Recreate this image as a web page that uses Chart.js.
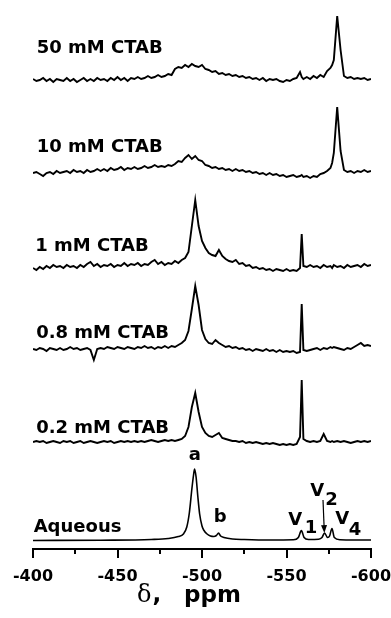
<!DOCTYPE html>
<html>
<head>
<meta charset="utf-8">
<script src="https://cdn.jsdelivr.net/npm/chart.js@4.4.1/dist/chart.umd.min.js"></script>
<style>
  html, body { margin: 0; padding: 0; background: #fff; }
  #wrap { width: 391px; height: 618px; }
</style>
</head>
<body>
<div id="wrap"><canvas id="nmr" width="391" height="618"></canvas></div>
<script>
// chemical shift grid (ppm) shared by the five noisy spectra
const ppmGrid = [
  -400, -402, -404, -406, -408, -410, -412, -414, -416, -418,
  -420, -422, -424, -426, -428, -430, -432, -434, -436, -438,
  -440, -442, -444, -446, -448, -450, -452, -454, -456, -458,
  -460, -462, -464, -466, -468, -470, -472, -474, -476, -478,
  -480, -482, -484, -486, -488, -490, -492, -494, -496, -498,
  -500, -502, -504, -506, -508, -510, -512, -514, -516, -518,
  -520, -522, -524, -526, -528, -530, -532, -534, -536, -538,
  -540, -542, -544, -546, -548, -550, -552, -554, -556, -558,
  -559, -560, -562, -564, -566, -568, -570, -572, -574, -576,
  -577, -578, -580, -582, -584, -586, -588, -590, -592, -594, -596, -598, -600
];

// intensities (arbitrary units, relative to each baseline)
const ctab50 = [
  1, -1, 0, 2, -1, 1, -2, 1, 0, -1,
  2, -1, 1, -2, 0, 2, -1, 1, -1, 2,
  0, 1, -1, 2, 0, 3, 0, 2, -1, 2,
  1, 3, 1, 2, 4, 2, 3, 5, 3, 4,
  6, 5, 11, 13, 12, 15, 13, 16, 14, 13,
  15, 11, 10, 8, 9, 6, 7, 5, 6, 4,
  5, 3, 4, 2, 3, 1, 2, 0, 2, -1,
  1, 0, 1, -1, -2, 0, -1, 1, 2, 8,
  3, 1, 3, 1, 4, 2, 5, 3, 9, 12,
  15, 20, 64, 30, 4, 2, 3, 1, 2, 1, 2, 0, 1
];
const ctab10 = [
  0, 1, -1, -3, 0, 1, -1, 2, 0, 1,
  2, 0, 3, 1, 2, 0, 3, 1, 2, 4,
  2, 4, 2, 5, 3, 4, 6, 3, 5, 4,
  6, 4, 5, 7, 5, 6, 8, 6, 7, 6,
  8, 7, 9, 12, 11, 15, 18, 14, 17, 13,
  12, 8, 7, 5, 6, 4, 5, 3, 4, 2,
  4, 2, 3, 1, 2, 0, 1, -1, 0, -2,
  0, -2, -1, -3, -2, -4, -3, -2, -4, -3,
  -2, -4, -3, -5, -3, -4, -1, 0, 2, 5,
  10, 20, 66, 22, 3, 1, 2, 0, 2, 1, 3, 1, 2
];
const ctab1 = [
  0, -2, 1, -1, 2, 0, 3, 1, 2, 0,
  3, 1, 2, 0, 3, 1, 4, 6, 2, 4,
  1, 3, 2, 4, 1, 3, 2, 5, 2, 4,
  3, 5, 2, 4, 3, 6, 8, 4, 6, 3,
  5, 4, 7, 5, 8, 10, 16, 42, 68, 42,
  27, 20, 15, 13, 12, 18, 12, 9, 7, 6,
  8, 4, 5, 2, 3, 0, 1, -1, 0, -2,
  -1, -3, -1, -2, -3, -1, -3, -2, -3, 0,
  34, 2, 1, 3, 1, 2, 0, 3, 1, 2,
  0, 3, 1, 2, 0, 3, 1, 2, 3, 1, 4, 2, 3
];
const ctab08 = [
  0, -1, 1, 0, -2, 1, 0, -1, 1, -1,
  0, 2, 0, 1, -1, 0, 1, -1, -11, 0,
  1, 0, 2, 1, 0, 2, 1, 0, 2, 1,
  0, 2, 1, 3, 1, 2, 0, 2, 1, 3,
  1, 3, 2, 4, 6, 9, 18, 40, 63, 44,
  19, 10, 6, 5, 9, 6, 4, 2, 3, 1,
  2, 0, 1, -1, 0, -2, 0, -1, -2, 0,
  -2, -1, -3, -1, -3, -2, -3, -2, -4, -3,
  45, -1, -2, -1, 0, 1, -1, 1, 0, 2,
  1, 2, 1, 0, -1, 1, 0, 2, 4, 6, 3, 4, 3
];
const ctab02 = [
  0, 1, 0, 1, -1, 0, 1, 0, -1, 1,
  0, 1, -1, 0, 1, -1, 0, 1, 0, -1,
  0, 1, 0, 1, -1, 0, 1, 0, 1, 0,
  1, 0, 1, 0, 1, 2, 1, 0, 1, 2,
  1, 2, 1, 2, 3, 6, 15, 35, 49, 30,
  15, 9, 6, 5, 7, 9, 4, 3, 2, 1,
  1, 0, 1, -1, 0, -1, 0, -1, -2, -1,
  -2, -1, -2, -3, -2, -3, -2, -3, -2, 5,
  62, 3, 1, 0, 1, 0, 1, 8, 1, 0,
  1, 0, 1, 0, 1, 0, -1, 0, 1, 0, 1, 0, 1
];

// aqueous spectrum is smooth, so it has its own sparser sampling
const aqPpm = [-400, -440, -470, -480, -486, -489, -491, -492.5, -494, -495, -495.6, -496.5, -497.5, -498.6,
  -500, -501, -503, -505, -507, -508.5, -509.8, -511, -513, -518, -525, -540, -554, -557, -558.8, -560.4,
  -563, -569, -571, -572.5, -574.3, -575.5, -576.9, -578.3, -581.8, -590, -600];
const aqVal = [0.5, 0.8, 1.5, 2.5, 4.5, 7, 14, 28, 52, 66, 72, 64, 45, 27,
  15, 11, 7, 5, 4.5, 5.5, 8, 5, 3.5, 2, 1.5, 1, 1.2, 3.5, 10.5, 3.5,
  1.5, 1.8, 3.5, 8, 3.5, 5, 12.5, 3.5, 1.2, 1, 1];

const sampleNames = ['50 mM CTAB', '10 mM CTAB', '1 mM CTAB', '0.8 mM CTAB', '0.2 mM CTAB', 'Aqueous'];
const tickLabelsPpm = [-400, -450, -500, -550, -600];

// vertical stacking of the traces (height of each baseline above the axis)
const stackOffsets = [469, 376, 281, 200, 107, 8];

const noisy = [ctab50, ctab10, ctab1, ctab08, ctab02];
const datasets = noisy.map((vals, i) => ({
  label: sampleNames[i],
  data: ppmGrid.map((p, j) => ({ x: p, y: stackOffsets[i] + vals[j] })),
  borderColor: '#000',
  borderWidth: 1.9,
  pointRadius: 0,
  tension: 0
}));
datasets.push({
  label: sampleNames[5],
  data: aqPpm.map((p, j) => ({ x: p, y: stackOffsets[5] + aqVal[j] })),
  borderColor: '#000',
  borderWidth: 1.6,
  pointRadius: 0,
  cubicInterpolationMode: 'monotone'
});

const FONT = '"DejaVu Sans", sans-serif';

const annotate = {
  id: 'annotate',
  afterDraw(chart, args, opts) {
    const { ctx, chartArea, scales: { x, y } } = chart;
    ctx.save();
    ctx.fillStyle = '#000';
    ctx.strokeStyle = '#000';

    // tick marks, long for labelled ticks
    ctx.lineWidth = 2;
    x.ticks.forEach(t => {
      const px = Math.round(x.getPixelForValue(t.value));
      const len = tickLabelsPpm.includes(t.value) ? 9 : 5;
      ctx.beginPath();
      ctx.moveTo(px, chartArea.bottom - 1);
      ctx.lineTo(px, chartArea.bottom + len);
      ctx.stroke();
    });

    ctx.font = 'bold 18px ' + FONT;
    ctx.textBaseline = 'alphabetic';
    opts.texts.forEach(t => {
      ctx.textAlign = t.align || 'left';
      ctx.fillText(t.text, x.getPixelForValue(t.ppm), y.getPixelForValue(t.y));
    });

    // arrow pointing at V2
    const a = opts.arrow;
    const x0 = x.getPixelForValue(a.from[0]), y0 = y.getPixelForValue(a.from[1]);
    const x1 = x.getPixelForValue(a.to[0]), y1 = y.getPixelForValue(a.to[1]);
    const ang = Math.atan2(y1 - y0, x1 - x0);
    ctx.lineWidth = 1.2;
    ctx.beginPath();
    ctx.moveTo(x0, y0);
    ctx.lineTo(x1 - 6 * Math.cos(ang), y1 - 6 * Math.sin(ang));
    ctx.stroke();
    ctx.beginPath();
    ctx.moveTo(x1, y1);
    ctx.lineTo(x1 - 8 * Math.cos(ang) + 3 * Math.sin(ang), y1 - 8 * Math.sin(ang) - 3 * Math.cos(ang));
    ctx.lineTo(x1 - 8 * Math.cos(ang) - 3 * Math.sin(ang), y1 - 8 * Math.sin(ang) + 3 * Math.cos(ang));
    ctx.closePath();
    ctx.fill();

    // axis title: serif delta, bold ppm
    const base = 602;
    ctx.textAlign = 'left';
    ctx.font = '24px "DejaVu Serif", serif';
    ctx.fillText('δ', 137, base);
    const dw = ctx.measureText('δ').width;
    ctx.font = 'bold 23px ' + FONT;
    ctx.fillText(',', 137 + dw + 1, base);
    ctx.fillText('ppm', 184, base);

    ctx.restore();
  }
};

new Chart(document.getElementById('nmr'), {
  type: 'line',
  data: { datasets },
  options: {
    responsive: false,
    animation: false,
    events: [],
    layout: { padding: { left: 33, right: 20, top: 0, bottom: 0 } },
    plugins: {
      legend: { display: false },
      tooltip: { enabled: false },
      annotate: {
        texts: [
          { text: sampleNames[0], ppm: -402.2, y: 496.5 },
          { text: sampleNames[1], ppm: -402.2, y: 397.3 },
          { text: sampleNames[2], ppm: -401.3, y: 298.3 },
          { text: sampleNames[3], ppm: -401.9, y: 211 },
          { text: sampleNames[4], ppm: -401.9, y: 116.5 },
          { text: sampleNames[5], ppm: -400.4, y: 17.3 },
          { text: 'a', ppm: -495.7, y: 89, align: 'center' },
          { text: 'b', ppm: -510.8, y: 27, align: 'center' },
          { text: 'V', ppm: -551.1, y: 24 },
          { text: '1', ppm: -560.8, y: 16.5 },
          { text: 'V', ppm: -564.1, y: 53 },
          { text: '2', ppm: -573, y: 44 },
          { text: 'V', ppm: -578.9, y: 25 },
          { text: '4', ppm: -586.8, y: 14 }
        ],
        arrow: { from: [-571.6, 49], to: [-572.4, 16] }
      }
    },
    scales: {
      x: {
        type: 'linear',
        min: -600,
        max: -400,
        reverse: true,
        afterFit: s => { s.height = 69; s.paddingLeft = 0; s.paddingRight = 0; },
        border: { display: true, color: '#000', width: 2 },
        grid: { display: false, drawTicks: false },
        ticks: {
          stepSize: 25,
          autoSkip: false,
          maxRotation: 0,
          padding: 18,
          color: '#000',
          font: { family: FONT, size: 16, weight: 'bold' },
          callback: v => tickLabelsPpm.includes(v) ? String(v) : ''
        }
      },
      y: { display: false, min: 0, max: 549 }
    }
  },
  plugins: [annotate]
});
</script>
</body>
</html>
